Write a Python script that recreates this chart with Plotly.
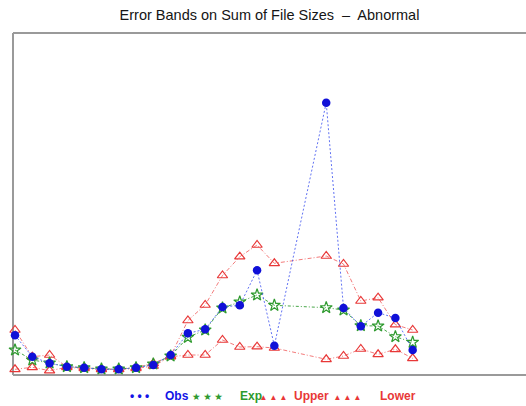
import plotly.graph_objects as go

# Hours of day (16 and 17 have no data)
hours = [0, 1, 2, 3, 4, 5, 6, 7, 8, 9, 10, 11, 12, 13, 14, 15, 18, 19, 20, 21, 22, 23]

obs = [39.7, 18.3, 11.7, 8.3, 7.3, 5.7, 5.7, 7.3, 10.0, 20.0, 41.7, 45.7,
       68.0, 69.7, 104.7, 29.3, 272.3, 67.0, 48.7, 62.3, 57.0, 25.0]
exp_ = [25.0, 15.0, 12.0, 8.3, 7.3, 6.0, 6.0, 7.3, 11.0, 19.0, 37.7, 45.0,
        67.0, 73.0, 80.0, 69.7, 67.3, 65.0, 49.3, 49.0, 38.3, 32.7]
upper = [45.0, 18.3, 20.0, 8.3, 7.5, 6.0, 6.0, 7.5, 11.7, 19.0, 54.5, 70.0,
         99.5, 118.3, 130.0, 111.7, 119.0, 111.0, 74.0, 77.3, 50.3, 45.0]
lower = [5.7, 7.7, 4.3, 7.7, 6.5, 5.5, 5.5, 6.5, 9.0, 18.3, 20.0, 20.0,
         35.0, 28.0, 28.3, 27.0, 15.7, 19.0, 26.0, 20.7, 25.7, 16.7]

title_text = "Error Bands on Sum of File Sizes  \u2013  Abnormal"

W, H = 526, 406
ML, MT, MB = 13, 33, 31
step = 17.29
x0 = -2 / step
x1 = x0 + (W - ML) / step

fig = go.Figure()
fig.add_trace(go.Scatter(
    x=hours, y=upper, name="Upper", mode="lines+markers", cliponaxis=False,
    line=dict(color="rgba(240,90,90,0.8)", width=1, dash="4px,2px,1px,2px"),
    marker=dict(symbol="triangle-up-open", size=9, color="#e83838", line=dict(width=1.2)),
))
fig.add_trace(go.Scatter(
    x=hours, y=lower, name="Lower", mode="lines+markers", cliponaxis=False,
    line=dict(color="rgba(240,90,90,0.8)", width=1, dash="4px,2px,1px,2px"),
    marker=dict(symbol="triangle-up-open", size=9, color="#e83838", line=dict(width=1.2)),
))
fig.add_trace(go.Scatter(
    x=hours, y=exp_, name="Exp", mode="lines+markers", cliponaxis=False,
    line=dict(color="rgba(40,150,40,0.85)", width=1, dash="3px,2px,1px,2px"),
    marker=dict(symbol="star-open", size=9, color="#2e9a2e", line=dict(width=1.2)),
))
fig.add_trace(go.Scatter(
    x=hours, y=obs, name="Obs", mode="lines+markers", cliponaxis=False,
    line=dict(color="rgba(70,90,240,0.85)", width=1, dash="2px,2px"),
    marker=dict(symbol="circle", size=8.5, color="#1010d8"),
))

axis_line = "#9a9a9a"
fig.update_layout(
    width=W, height=H,
    margin=dict(l=ML, r=0, t=MT, b=MB, pad=0),
    paper_bgcolor="white", plot_bgcolor="white",
    showlegend=False,
    font=dict(family="Liberation Sans, Arial, sans-serif"),
    title=dict(text=title_text, x=0.5, xref="paper", xanchor="center",
               y=1 - 14.5 / H, yref="container", yanchor="middle",
               font=dict(size=14.5, color="#151515")),
    xaxis=dict(range=[x0, x1], showgrid=False, zeroline=False, showticklabels=False,
               ticks="", showline=False),
    yaxis=dict(range=[0, H - MT - MB], showgrid=False, zeroline=False, showticklabels=False,
               ticks="", showline=False),
)

# Frame: top, bottom and left edges (the right side runs off the picture)
for xa, ya, xb, yb in [(0, 0, 1, 0), (0, 1, 1, 1), (0, 0, 0, 1)]:
    fig.add_shape(type="line", xref="paper", yref="paper", x0=xa, y0=ya, x1=xb, y1=yb,
                  line=dict(color=axis_line, width=2), layer="below")

# Legend drawn as text beneath the plot
plot_w = W - ML
plot_h = H - MT - MB
ly = -(396 - (H - MB)) / plot_h
legend_items = [
    (128, "\u2022 \u2022 \u2022", "#1414e6", 12, True),
    (163, "Obs", "#1414e6", 12, True),
    (190, "\u2605 \u2605 \u2605", "#2e9a2e", 9.5, False),
    (238, "Exp", "#2e9a2e", 12, True),
    (259, "\u25b4  \u25b4  \u25b4", "#e83838", 9.5, False),
    (292, "Upper", "#e83838", 12, True),
    (333, "\u25b4  \u25b4  \u25b4", "#e83838", 9.5, False),
    (378, "Lower", "#e83838", 12, True),
]
for px, txt, col, sz, bold in legend_items:
    fig.add_annotation(
        x=(px - ML) / plot_w, y=ly, xref="paper", yref="paper",
        xanchor="left", yanchor="middle", showarrow=False,
        text=f"<b>{txt}</b>" if bold else txt,
        font=dict(size=sz, color=col, family="Liberation Sans, Arial, DejaVu Sans, sans-serif"),
    )

fig.write_html("out.html")
